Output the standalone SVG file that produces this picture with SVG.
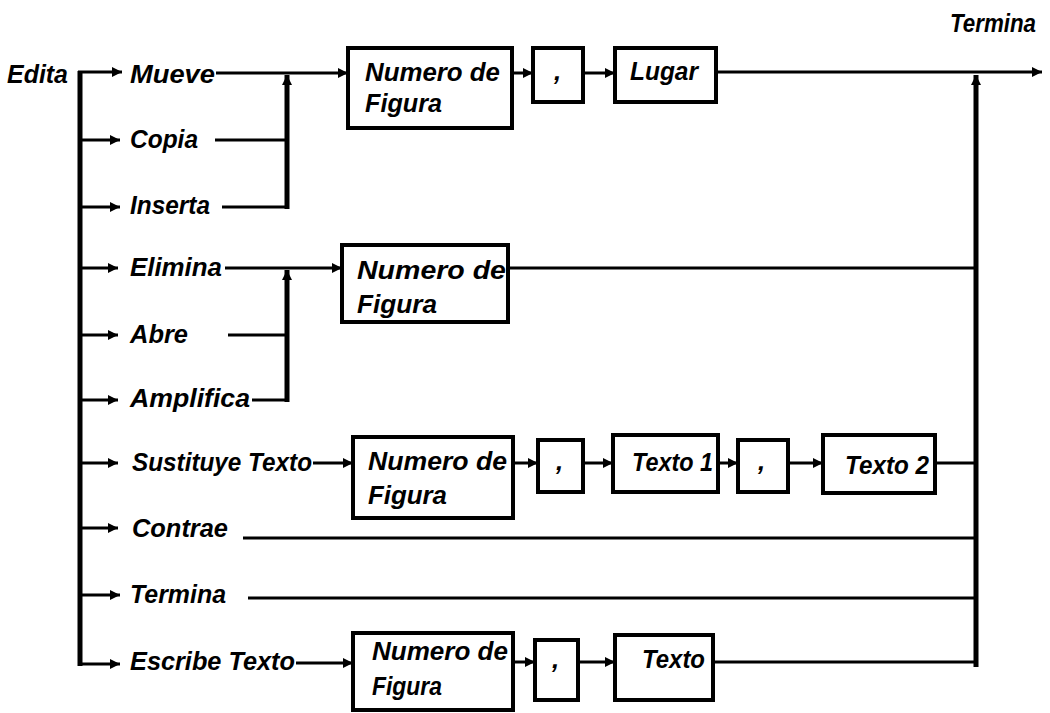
<svg xmlns="http://www.w3.org/2000/svg" width="1050" height="713" viewBox="0 0 1050 713">
<style>
.t{font-family:"Liberation Sans",Arial,sans-serif;font-style:italic;font-weight:bold;font-size:26px;fill:#000}
.b{fill:#fff;stroke:#000;stroke-width:4}
.l{fill:none;stroke:#000;stroke-width:3}
.k{fill:none;stroke:#000;stroke-width:5}
.a{marker-end:url(#ah)}
</style>
<defs>
<marker id="ah" viewBox="0 0 10 10" refX="10" refY="5" markerWidth="12" markerHeight="10" markerUnits="userSpaceOnUse" orient="auto">
<path d="M0,0 L10,5 L0,10 z" fill="#000"/>
</marker>
</defs>
<rect width="1050" height="713" fill="#fff"/>
<g id="connectors">
<line class="k" x1="80" y1="71" x2="80" y2="666"/>
<line class="l a" x1="78" y1="72" x2="122" y2="72"/>
<line class="l a" x1="80" y1="140" x2="120" y2="140"/>
<line class="l a" x1="80" y1="207" x2="120" y2="207"/>
<line class="l a" x1="80" y1="268" x2="118" y2="268"/>
<line class="l a" x1="80" y1="335" x2="118" y2="335"/>
<line class="l a" x1="80" y1="400" x2="118" y2="400"/>
<line class="l a" x1="80" y1="463" x2="118" y2="463"/>
<line class="l a" x1="80" y1="528" x2="118" y2="528"/>
<line class="l a" x1="80" y1="595" x2="120" y2="595"/>
<line class="l a" x1="80" y1="664" x2="120" y2="664"/>
<line class="l a" x1="216" y1="73" x2="348" y2="73"/>
<line class="l" x1="215" y1="140" x2="288" y2="140"/>
<line class="l" x1="222" y1="207" x2="288" y2="207"/>
<line class="k a" x1="287" y1="209" x2="287" y2="75"/>
<line class="l a" x1="512" y1="73" x2="533" y2="73"/>
<line class="l a" x1="583" y1="73" x2="615" y2="73"/>
<line class="l a" x1="716" y1="72" x2="1042" y2="72"/>
<line class="l a" x1="225" y1="268" x2="342" y2="268"/>
<line class="l" x1="228" y1="335" x2="288" y2="335"/>
<line class="l" x1="252" y1="400" x2="288" y2="400"/>
<line class="k a" x1="287" y1="402" x2="287" y2="270"/>
<line class="l" x1="508" y1="268" x2="977" y2="268"/>
<line class="l a" x1="313" y1="463" x2="353" y2="463"/>
<line class="l a" x1="513" y1="463" x2="538" y2="463"/>
<line class="l a" x1="583" y1="463" x2="613" y2="463"/>
<line class="l a" x1="718" y1="463" x2="738" y2="463"/>
<line class="l a" x1="788" y1="463" x2="823" y2="463"/>
<line class="l" x1="935" y1="463" x2="977" y2="463"/>
<line class="l" x1="243" y1="538" x2="977" y2="538"/>
<line class="l" x1="248" y1="598" x2="977" y2="598"/>
<line class="l a" x1="296" y1="663" x2="353" y2="663"/>
<line class="l a" x1="513" y1="662" x2="535" y2="662"/>
<line class="l a" x1="578" y1="662" x2="615" y2="662"/>
<line class="l" x1="713" y1="662" x2="977" y2="662"/>
<line class="k a" x1="976" y1="667" x2="976" y2="75"/>
</g>
<g id="node-edita"><text class="t" x="7" y="83" textLength="61" lengthAdjust="spacingAndGlyphs">Edita</text></g>
<g id="node-termina-out"><text class="t" x="950" y="32" textLength="86" lengthAdjust="spacingAndGlyphs">Termina</text></g>
<g id="node-mueve"><text class="t" x="130" y="83" textLength="85" lengthAdjust="spacingAndGlyphs">Mueve</text></g>
<g id="node-copia"><text class="t" x="130" y="148" textLength="68" lengthAdjust="spacingAndGlyphs">Copia</text></g>
<g id="node-inserta"><text class="t" x="130" y="214" textLength="80" lengthAdjust="spacingAndGlyphs">Inserta</text></g>
<g id="node-elimina"><text class="t" x="130" y="276" textLength="92" lengthAdjust="spacingAndGlyphs">Elimina</text></g>
<g id="node-abre"><text class="t" x="130" y="343" textLength="58" lengthAdjust="spacingAndGlyphs">Abre</text></g>
<g id="node-amplifica"><text class="t" x="130" y="407" textLength="120" lengthAdjust="spacingAndGlyphs">Amplifica</text></g>
<g id="node-sustituye"><text class="t" x="132" y="471" textLength="180" lengthAdjust="spacingAndGlyphs">Sustituye Texto</text></g>
<g id="node-contrae"><text class="t" x="132" y="537" textLength="96" lengthAdjust="spacingAndGlyphs">Contrae</text></g>
<g id="node-termina"><text class="t" x="130" y="603" textLength="96" lengthAdjust="spacingAndGlyphs">Termina</text></g>
<g id="node-escribe"><text class="t" x="130" y="670" textLength="165" lengthAdjust="spacingAndGlyphs">Escribe Texto</text></g>
<g id="box-numfig-1">
<rect class="b" x="348" y="48" width="164" height="80"/>
<text class="t" x="365" y="81" textLength="135" lengthAdjust="spacingAndGlyphs">Numero de</text>
<text class="t" x="365" y="112" textLength="77" lengthAdjust="spacingAndGlyphs">Figura</text>
</g>
<g id="box-comma-1"><rect class="b" x="533" y="48" width="50" height="54"/><text class="t" x="554" y="80">,</text></g>
<g id="box-lugar"><rect class="b" x="615" y="48" width="101" height="54"/><text class="t" x="630" y="80" textLength="68" lengthAdjust="spacingAndGlyphs">Lugar</text></g>
<g id="box-numfig-2">
<rect class="b" x="342" y="245" width="166" height="77"/>
<text class="t" x="357" y="279" textLength="149" lengthAdjust="spacingAndGlyphs">Numero de</text>
<text class="t" x="357" y="313" textLength="80" lengthAdjust="spacingAndGlyphs">Figura</text>
</g>
<g id="box-numfig-3">
<rect class="b" x="353" y="437" width="160" height="81"/>
<text class="t" x="368" y="470" textLength="139" lengthAdjust="spacingAndGlyphs">Numero de</text>
<text class="t" x="368" y="504" textLength="79" lengthAdjust="spacingAndGlyphs">Figura</text>
</g>
<g id="box-comma-2"><rect class="b" x="538" y="440" width="45" height="52"/><text class="t" x="556" y="470">,</text></g>
<g id="box-texto1"><rect class="b" x="613" y="435" width="105" height="57"/><text class="t" x="632" y="471" textLength="81" lengthAdjust="spacingAndGlyphs">Texto 1</text></g>
<g id="box-comma-3"><rect class="b" x="738" y="440" width="50" height="52"/><text class="t" x="758" y="470">,</text></g>
<g id="box-texto2"><rect class="b" x="823" y="435" width="112" height="58"/><text class="t" x="845" y="474" textLength="84" lengthAdjust="spacingAndGlyphs">Texto 2</text></g>
<g id="box-numfig-4">
<rect class="b" x="353" y="633" width="160" height="77"/>
<text class="t" x="372" y="660" textLength="136" lengthAdjust="spacingAndGlyphs">Numero de</text>
<text class="t" x="372" y="695" textLength="70" lengthAdjust="spacingAndGlyphs">Figura</text>
</g>
<g id="box-comma-4"><rect class="b" x="535" y="640" width="43" height="60"/><text class="t" x="552" y="668">,</text></g>
<g id="box-texto"><rect class="b" x="615" y="635" width="98" height="65"/><text class="t" x="642" y="668" textLength="63" lengthAdjust="spacingAndGlyphs">Texto</text></g>
</svg>
